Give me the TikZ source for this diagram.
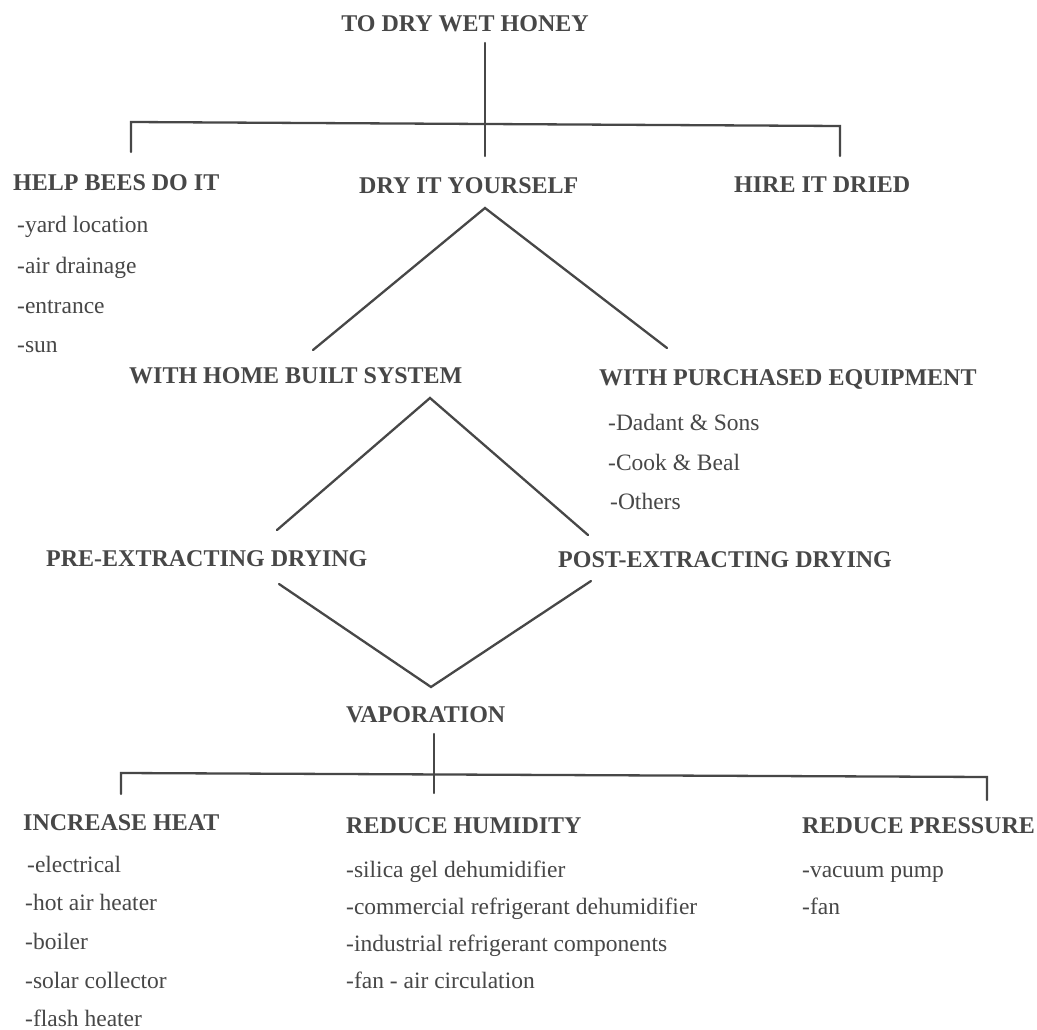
\documentclass[tikz,border=0pt]{standalone}
\usepackage{fontspec}
\setmainfont{Liberation Serif}
\definecolor{ink}{gray}{0.28}
\begin{document}
\begin{tikzpicture}[x=1pt,y=-1pt,
  head/.style={font=\bfseries\fontsize{24}{28}\selectfont, inner sep=0pt, anchor=base west, text=ink},
  item/.style={font=\fontsize{23.5}{28}\selectfont, inner sep=0pt, anchor=base west, text=ink},
  link/.style={draw=ink, line width=2.3pt, line cap=round, line join=miter}]
\useasboundingbox[fill=white] (0,0) rectangle (1037,1030);

% headings
\node[head, anchor=base] (top) at (465,32) {TO DRY WET HONEY};
\node[head] (help) at (13,190) {HELP BEES DO IT};
\node[head] (dry) at (359,194) {DRY IT YOURSELF};
\node[head] (hire) at (734,193) {HIRE IT DRIED};
\node[head] (home) at (129,383) {WITH HOME BUILT SYSTEM};
\node[head] (purch) at (599,385) {WITH PURCHASED EQUIPMENT};
\node[head] (pre) at (46,566) {PRE-EXTRACTING DRYING};
\node[head] (post) at (558,567) {POST-EXTRACTING DRYING};
\node[head] (vap) at (346,722) {VAPORATION};
\node[head] (heat) at (23,830) {INCREASE HEAT};
\node[head] (humid) at (346,833) {REDUCE HUMIDITY};
\node[head] (press) at (802,833) {REDUCE PRESSURE};

% lists
\node[item] (h1) at (17,233) {-yard location};
\node[item] (h2) at (17,273) {-air drainage};
\node[item] (h3) at (17,313) {-entrance};
\node[item] (h4) at (17,352) {-sun};

\node[item] (p1) at (608,430) {-Dadant \& Sons};
\node[item] (p2) at (608,470) {-Cook \& Beal};
\node[item] (p3) at (610,509) {-Others};

\node[item] (i1) at (27,872) {-electrical};
\node[item] (i2) at (25,910) {-hot air heater};
\node[item] (i3) at (25,949) {-boiler};
\node[item] (i4) at (25,988) {-solar collector};
\node[item] (i5) at (25,1026) {-flash heater};

\node[item] (r1) at (346,877) {-silica gel dehumidifier};
\node[item] (r2) at (346,914) {-commercial refrigerant dehumidifier};
\node[item] (r3) at (346,951) {-industrial refrigerant components};
\node[item] (r4) at (346,988) {-fan - air circulation};

\node[item] (s1) at (802,877) {-vacuum pump};
\node[item] (s2) at (802,914) {-fan};

% junction coordinates
\coordinate (topdown) at (485,43);
\coordinate (topbar) at (485,124);
\coordinate (topend) at (485,156);
\coordinate (barL) at (131,122);
\coordinate (barR) at (840,126);
\coordinate (helpin) at (131,152);
\coordinate (hirein) at (840,156);

\coordinate (dryapex) at (485,208);
\coordinate (homein) at (313,350);
\coordinate (purchin) at (667,348);

\coordinate (homeapex) at (430,398);
\coordinate (prein) at (277,530);
\coordinate (postin) at (588,535);

\coordinate (preout) at (279,584);
\coordinate (postout) at (591,581);
\coordinate (vapin) at (431,687);

\coordinate (vapdown) at (434,734);
\coordinate (vapend) at (434,793);
\coordinate (vbarL) at (121,773);
\coordinate (vbarR) at (987,777);
\coordinate (heatin) at (121,794);
\coordinate (pressin) at (987,800);

% connectors
\draw[link] (topdown) -- (topend);
\draw[link] (helpin) -- (barL) -- (barR) -- (hirein);
\draw[link] (homein) -- (dryapex) -- (purchin);
\draw[link] (prein) -- (homeapex) -- (postin);
\draw[link] (preout) -- (vapin) -- (postout);
\draw[link] (vapdown) -- (vapend);
\draw[link] (heatin) -- (vbarL) -- (vbarR) -- (pressin);
\end{tikzpicture}
\end{document}
